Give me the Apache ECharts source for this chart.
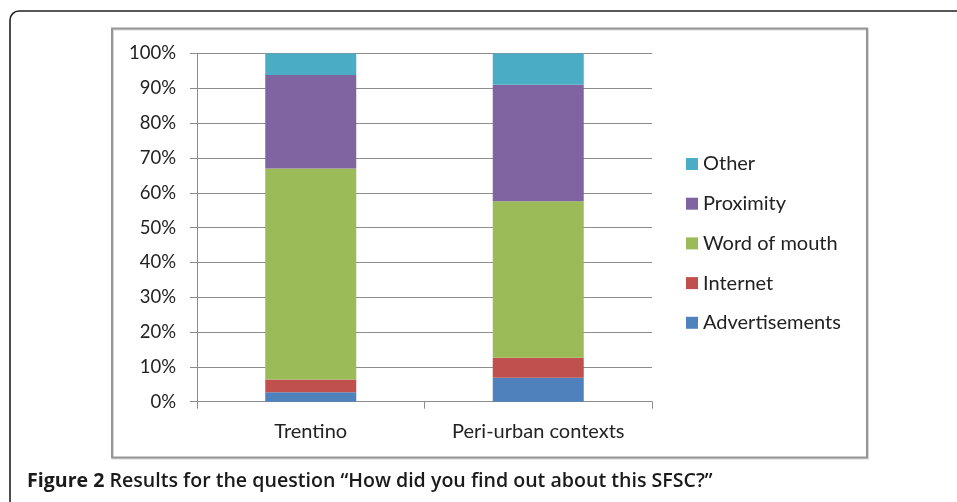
<!DOCTYPE html>
<html><head><meta charset="utf-8">
<script src="https://cdn.jsdelivr.net/npm/echarts@6/dist/echarts.min.js"></script>
<style>html,body{margin:0;padding:0;background:#fff}#c{width:957px;height:502px}</style>
</head><body><div id="c"></div>
<script>
const categories = ['Trentino', 'Peri-urban contexts'];
const seriesNames = ['Advertisements', 'Internet', 'Word of mouth', 'Proximity', 'Other'];
const advertisements = [2.7, 6.9];
const internet = [3.7, 5.7];
const wordOfMouth = [60.6, 45.0];
const proximity = [26.8, 33.4];
const other = [6.2, 9.0];
const yTicks = [0, 10, 20, 30, 40, 50, 60, 70, 80, 90, 100];
const colors = ['#4F81BD', '#C0504D', '#9BBB59', '#8064A2', '#4BACC6'];
const values = [advertisements, internet, wordOfMouth, proximity, other];

const FONT = 'Lato';
const chart = echarts.init(document.getElementById('c'), null, {renderer: 'canvas'});
chart.setOption({
  animation: false,
  backgroundColor: '#fff',
  graphic: [
    {type: 'rect', shape: {x: 10, y: 11, width: 1000, height: 600, r: 9},
     style: {fill: 'none', stroke: '#222', lineWidth: 1.6}, silent: true, z: -10},
    {type: 'rect', shape: {x: 113, y: 29.5, width: 755, height: 429},
     style: {fill: 'none', stroke: '#d8d8d8', lineWidth: 2}, silent: true, z: -9},
    {type: 'rect', shape: {x: 112, y: 28.5, width: 755, height: 429},
     style: {fill: 'none', stroke: '#969696', lineWidth: 2}, silent: true, z: -8}
  ],
  title: {
    text: '{b|Figure 2} {r|Results for the question “How did you find out about this SFSC?”}',
    left: 22, top: 466,
    textStyle: {
      rich: {
        b: {fontFamily: 'Open Sans', fontWeight: 'bold', fontSize: 19.6, color: '#1a1a1a'},
        r: {fontFamily: 'Open Sans', fontWeight: 600, fontSize: 19.6, color: '#1a1a1a'}
      }
    }
  },
  legend: {
    orient: 'vertical', left: 681, top: 149,
    data: seriesNames.slice().reverse(),
    itemWidth: 12, itemHeight: 12, itemGap: 19.7,
    icon: 'rect',
    textStyle: {fontFamily: FONT, fontSize: 20, color: '#222'}
  },
  grid: {left: 197, right: 305, top: 53.5, bottom: 100.3, containLabel: false},
  xAxis: {
    type: 'category', data: categories,
    axisLine: {lineStyle: {color: '#8c8c8c', width: 1}},
    axisTick: {show: true, length: 7, lineStyle: {color: '#8c8c8c'}},
    axisLabel: {fontFamily: FONT, fontSize: 20, color: '#222', margin: 20}
  },
  yAxis: {
    type: 'value', min: yTicks[0], max: yTicks[yTicks.length - 1], interval: 10,
    axisLine: {show: true, lineStyle: {color: '#8c8c8c', width: 1}},
    axisTick: {show: true, length: 7, lineStyle: {color: '#8c8c8c'}},
    splitLine: {lineStyle: {color: '#8c8c8c', width: 1}},
    axisLabel: {fontFamily: FONT, fontSize: 18.5, color: '#222', margin: 21,
      formatter: v => v + '%'}
  },
  series: seriesNames.map((n, i) => ({
    name: n, type: 'bar', stack: 'total', barWidth: '40%',
    data: values[i], itemStyle: {color: colors[i]}
  }))
});
</script></body></html>
